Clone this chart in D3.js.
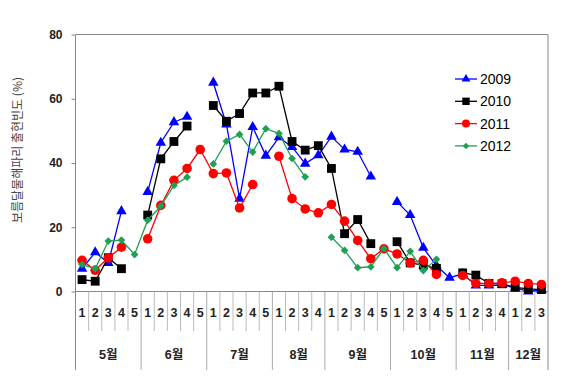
<!DOCTYPE html>
<html>
<head>
<meta charset="utf-8">
<script src="https://cdn.jsdelivr.net/npm/d3@7"></script>
<style>
  body { margin: 0; background: #fff; }
  text { font-family: "Liberation Sans", Arial, "Noto Sans CJK KR", sans-serif; }
</style>
</head>
<body>
<div id="chart"></div>
<script>
// week numbers within each month, and month names with week counts
const monthNames = ['5월', '6월', '7월', '8월', '9월', '10월', '11월', '12월'];
const monthWeeks = [5, 5, 5, 4, 5, 5, 4, 3];
const weekLabels = monthWeeks.flatMap(n => d3.range(1, n + 1).map(String));

const years = ['2009', '2010', '2011', '2012'];

// occurrence frequency (%), null = no survey
const s2009 = [7.1, 12.2, 8.9, 25, null, 31, 46.3, 52.7, 54.4, null,
               65, 52, 28.9, 51.2, 42.3, 48, 45, 39.8, 42.4, 48.2,
               44.2, 43.5, 35.8, null, 27.9, 23.8, 13.6, 8, 4.3, 5.5,
               1.9, 1.9, 2, 1.2, 0, 0.5];
const s2010 = [3.7, 3.2, 10.5, 7.1, null, 23.8, 41.3, 46.7, 51.5, null,
               57.9, 53, 55.4, 61.8, 61.8, 63.9, 46.7, 44, 45.4, 38.3,
               18, 22.4, 14.9, null, 15.5, 8.9, 8.2, 7.2, null, 5.8,
               5.1, 2.5, 2.4, 1.3, 0.8, 0.6];
const s2011 = [9.7, 6.6, 10.5, 13.8, null, 16.4, 26.8, 34.6, 38.3, 44.2,
               36.7, 36.9, 26, 33.3, null, 42.1, 28.9, 25.7, 24.5, 27.1,
               21.9, 15.9, 10.2, 13.3, 11.7, 8.9, 9.7, 5.3, null, 5,
               2.5, 2.5, 2.7, 3.2, 2.5, 2.2];
const s2012 = [8.4, 7.1, 15.7, 16, 11.5, 22.2, 26.6, 33, 35.6, null,
               39.7, 46.8, 48.9, 43.4, 50.7, 49.2, 41.4, 35.7, null, 16.9,
               12.8, 7.4, 7.7, 13.4, 7.4, 12.5, 6.5, 10, null, null,
               null, null, null, null, null, null];
const seriesValues = [s2009, s2010, s2011, s2012];

const colors = ['#0000ff', '#000000', '#ff0000', '#1fa055'];
const shapes = [d3.symbolTriangle, d3.symbolSquare, d3.symbolCircle, d3.symbolSquare];
const sizes = [48, 78, 72, 30];
const rotations = [0, 0, 0, 45];

const W = 563, H = 379;
const plotL = 75.5, plotR = 548, plotT = 34.5, plotB = 291.5;

const svg = d3.select('#chart').append('svg')
  .attr('width', W).attr('height', H);

const x = d3.scaleBand()
  .domain(d3.range(weekLabels.length))
  .range([plotL, plotR]);

const y = d3.scaleLinear()
  .domain([0, 80])
  .range([plotB, plotT]);

// frame
svg.append('line')
  .attr('x1', plotL).attr('x2', plotR).attr('y1', plotT).attr('y2', plotT)
  .attr('stroke', '#888');
svg.append('line')
  .attr('x1', plotR).attr('x2', plotR).attr('y1', plotT).attr('y2', 370)
  .attr('stroke', '#888');
svg.append('line')
  .attr('x1', plotL).attr('x2', plotL).attr('y1', plotT).attr('y2', 370)
  .attr('stroke', '#888');
svg.append('line')
  .attr('x1', plotL).attr('x2', plotR).attr('y1', plotB).attr('y2', plotB)
  .attr('stroke', '#888');

// y axis
const yAxis = svg.append('g')
  .attr('transform', `translate(${plotL},0)`)
  .call(d3.axisLeft(y).tickValues([0, 20, 40, 60, 80]).tickSize(4).tickSizeOuter(0).tickPadding(9));
yAxis.select('.domain').remove();
yAxis.selectAll('line').attr('stroke', '#888');
yAxis.selectAll('text')
  .attr('font-size', 12).attr('font-weight', 'bold').attr('fill', '#222');

svg.append('text')
  .attr('transform', 'translate(22,150) rotate(-90)')
  .attr('text-anchor', 'middle')
  .attr('font-size', 12)
  .attr('fill', '#444')
  .style('font-family', '"Noto Sans CJK KR", sans-serif')
  .text('보름달물해파리 출현빈도 (%)');

// week separators and month separators
const monthStart = d3.cumsum([0].concat(monthWeeks));
const sepGroup = svg.append('g');
d3.range(1, weekLabels.length).forEach(i => {
  const isMonth = monthStart.includes(i);
  sepGroup.append('line')
    .attr('x1', x(i)).attr('x2', x(i))
    .attr('y1', plotB).attr('y2', isMonth ? 370 : 331)
    .attr('stroke', isMonth ? '#aaa' : '#bbb');
});

// week labels
const xAxis = svg.append('g')
  .attr('transform', `translate(0,${plotB})`)
  .call(d3.axisBottom(x).tickSize(0).tickPadding(17).tickFormat(i => weekLabels[i]));
xAxis.select('.domain').remove();
xAxis.selectAll('text')
  .attr('font-size', 12.5).attr('font-weight', 'bold').attr('fill', '#222');

// month labels
svg.append('g').selectAll('text')
  .data(monthNames)
  .join('text')
  .attr('x', (d, i) => (x(monthStart[i]) + x(monthStart[i + 1] - 1) + x.bandwidth()) / 2)
  .attr('y', 359)
  .attr('text-anchor', 'middle')
  .attr('font-size', 12.5)
  .attr('font-weight', 'bold')
  .attr('fill', '#222')
  .text(d => d);

// series
const cx = i => x(i) + x.bandwidth() / 2;
const line = d3.line()
  .defined(d => d != null)
  .x((d, i) => cx(i))
  .y(d => y(d));

seriesValues.forEach((vals, k) => {
  const g = svg.append('g');
  g.append('path')
    .attr('d', line(vals))
    .attr('fill', 'none')
    .attr('stroke', colors[k])
    .attr('stroke-width', 1.3);
  g.selectAll('path.pt')
    .data(vals.map((v, i) => ({ v, i })).filter(d => d.v != null))
    .join('path')
    .attr('class', 'pt')
    .attr('d', d3.symbol().type(shapes[k]).size(sizes[k]))
    .attr('transform', d => `translate(${cx(d.i)},${y(d.v)}) rotate(${rotations[k]})`)
    .attr('fill', colors[k]);
});

// legend
const legend = svg.append('g');
years.forEach((yr, k) => {
  const ly = 79 + k * 22.3;
  legend.append('line')
    .attr('x1', 455).attr('x2', 477).attr('y1', ly).attr('y2', ly)
    .attr('stroke', colors[k]).attr('stroke-width', 1.3);
  legend.append('path')
    .attr('d', d3.symbol().type(shapes[k]).size(sizes[k] * 0.7))
    .attr('transform', `translate(466,${ly}) rotate(${rotations[k]})`)
    .attr('fill', colors[k]);
  legend.append('text')
    .attr('x', 480).attr('y', ly + 5)
    .attr('font-size', 14)
    .attr('fill', '#000')
    .text(yr);
});
</script>
</body>
</html>
